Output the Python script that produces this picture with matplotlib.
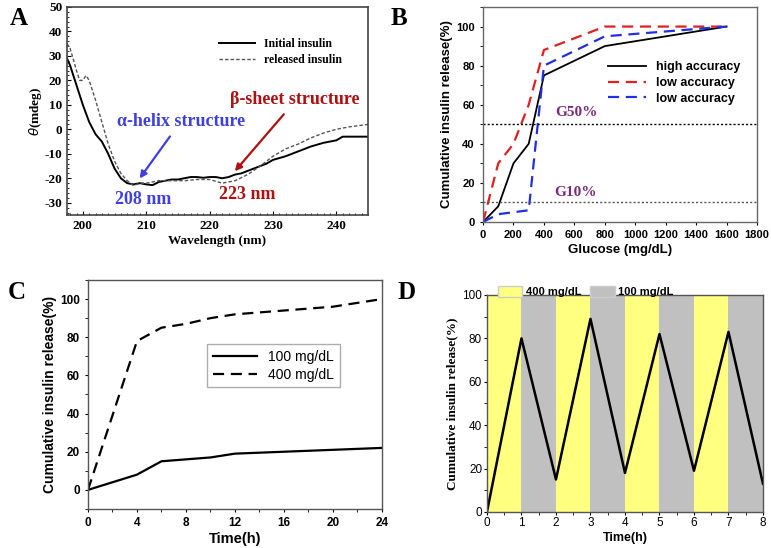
import numpy as np
import matplotlib
matplotlib.use("Agg")
import matplotlib.pyplot as plt
from matplotlib.patches import Patch
from matplotlib.ticker import MultipleLocator

plt.rcParams["axes.unicode_minus"] = False

# -----------------------------
# Data
# -----------------------------

# A: CD spectra
wl_initial = [197, 198, 199, 200, 201, 202, 203, 204, 205, 206, 207, 208, 209, 210, 211,
              212, 213, 214, 215, 216, 217, 218, 219, 220, 221, 222, 223, 224, 225, 226,
              227, 228, 229, 230, 232, 234, 236, 238, 240, 241, 243, 245]
cd_initial = [32, 26, 18, 10, 3, -2, -5, -10, -16, -20, -22, -22.5, -22, -22.5, -22.8,
              -21.5, -21, -20.5, -20.5, -20, -19.5, -19.5, -19.8, -19.5, -19.5, -20, -19.5, -18.5, -18, -17,
              -16, -15, -14, -12.5, -11, -9, -7, -5.5, -4.5, -3, -3, -3]
wl_released = [197, 198, 199, 199.5, 200, 200.5, 201, 202, 203, 204, 205, 206, 207, 208, 209,
               210, 212, 214, 216, 218, 220, 222, 224, 226, 228, 230, 232, 234, 236, 238,
               240, 242, 245]
cd_released = [37, 33, 24, 20, 20, 22, 20, 12, 3, -6, -13, -18, -21, -23, -22,
               -22, -21, -21, -21, -20.5, -20.5, -22, -21, -18.5, -15, -11, -8, -6, -3.5, -1.5,
               0, 1, 2]

# B: release vs glucose
glucose = [0, 100, 200, 300, 400, 800, 1600]
high_acc = [0, 8, 30, 40, 75, 90, 100]
low_acc_red = [0, 30, 40, 60, 88, 100, 100]
low_acc_blue = [0, 4, 5, 6, 80, 95, 100]

# C: cumulative release vs time
time_c = [0, 4, 6, 8, 10, 12, 16, 20, 24]
rel_100 = [0, 8, 15, 16, 17, 19, 20, 21, 22]
rel_400 = [0, 78, 85, 87, 90, 92, 94, 96, 100]

# D: pulsatile release
time_d = [0, 1, 2, 3, 4, 5, 6, 7, 8]
rel_d = [0, 80, 15, 89, 18, 82, 19, 83, 13]
band_labels = ["400 mg/dL", "100 mg/dL"]
band_colors = ["#ffff80", "#c0c0c0"]

# -----------------------------
# Figure
# -----------------------------

fig = plt.figure(figsize=(7.71, 5.48), dpi=100)
serif = "Liberation Serif"
sans = "Liberation Sans"

# ---- Panel A ----
axA = fig.add_axes([0.0869, 0.6077, 0.3904, 0.3796])
axA.plot(wl_initial, cd_initial, color="black", lw=1.4, label="Initial insulin")
axA.plot(wl_released, cd_released, color="#555555", lw=1.0, ls=(0, (2.5, 1.5)), label="released insulin")
axA.set_xlim(197.5, 245)
axA.set_ylim(-35, 50)
axA.xaxis.set_major_locator(MultipleLocator(10))
axA.xaxis.set_minor_locator(MultipleLocator(1))
axA.yaxis.set_major_locator(MultipleLocator(10))
axA.yaxis.set_minor_locator(MultipleLocator(2))
axA.tick_params(which="both", direction="in", labelsize=9.5)
axA.tick_params(which="major", length=3)
axA.tick_params(which="minor", length=1.5)
for lab in axA.get_xticklabels() + axA.get_yticklabels():
    lab.set_fontfamily(serif)
    lab.set_fontweight("bold")
axA.set_xlabel("Wavelength (nm)", fontfamily=serif, fontweight="bold", fontsize=9.5, labelpad=2)
axA.set_ylabel(r"$\theta$(mdeg)", fontfamily=serif, fontweight="bold", fontsize=9.5, labelpad=0)
axA.legend(loc="upper right", frameon=False, prop={"family": serif, "weight": "bold", "size": 8.5},
           handlelength=3, bbox_to_anchor=(0.95, 0.90), labelspacing=0.3)
axA.text(215.5, 3, "α-helix structure", color="#4040e0", fontfamily=serif, fontweight="bold",
         fontsize=13, ha="center", va="center")
axA.text(233.5, 12, "β-sheet structure", color="#b01010", fontfamily=serif, fontweight="bold",
         fontsize=13, ha="center", va="center")
axA.text(209.5, -28.5, "208 nm", color="#4040e0", fontfamily=serif, fontweight="bold",
         fontsize=13, ha="center", va="center")
axA.text(226, -26.5, "223 nm", color="#b01010", fontfamily=serif, fontweight="bold",
         fontsize=13, ha="center", va="center")
axA.annotate("", xy=(208.7, -21), xytext=(214, -2),
             arrowprops=dict(arrowstyle="-|>", color="#4040e0", lw=1.6, mutation_scale=10))
axA.annotate("", xy=(223.7, -18), xytext=(232, 7),
             arrowprops=dict(arrowstyle="-|>", color="#b01010", lw=1.6, mutation_scale=10))
for s in axA.spines.values():
    s.set_linewidth(1.2)
    s.set_color("#444444")
fig.text(0.012, 0.955, "A", fontfamily=serif, fontweight="bold", fontsize=18)

# ---- Panel B ----
axB = fig.add_axes([0.6265, 0.5949, 0.3554, 0.3923])
axB.plot(glucose, high_acc, color="black", lw=1.3, label="high accuracy")
axB.plot(glucose, low_acc_red, color="#e02020", lw=1.6, ls=(0, (5, 3)), label="low accuracy")
axB.plot(glucose, low_acc_blue, color="#2030e0", lw=1.6, ls=(0, (5, 3)), label="low accuracy")
axB.axhline(50, color="black", lw=1.0, ls=(0, (1.5, 1.5)))
axB.axhline(10, color="#555555", lw=1.0, ls=(0, (1.5, 1.5)))
axB.text(615, 56, "G50%", color="#7a2a7a", fontfamily=serif, fontweight="bold", fontsize=11,
         ha="center", va="center")
axB.text(610, 15, "G10%", color="#7a2a7a", fontfamily=serif, fontweight="bold", fontsize=11,
         ha="center", va="center")
axB.set_xlim(0, 1800)
axB.set_ylim(0, 110)
axB.xaxis.set_major_locator(MultipleLocator(200))
axB.yaxis.set_major_locator(MultipleLocator(20))
axB.yaxis.set_minor_locator(MultipleLocator(10))
axB.tick_params(which="both", direction="out", labelsize=8, length=2.5)
for lab in axB.get_xticklabels() + axB.get_yticklabels():
    lab.set_fontfamily(sans)
    lab.set_fontweight("bold")
axB.set_xlabel("Glucose (mg/dL)", fontfamily=sans, fontweight="bold", fontsize=9.5, labelpad=3)
axB.set_ylabel("Cumulative insulin release(%)", fontfamily=sans, fontweight="bold", fontsize=9.5, labelpad=2)
axB.legend(loc="upper right", frameon=False, prop={"family": sans, "weight": "bold", "size": 9},
           handlelength=3, bbox_to_anchor=(0.98, 0.80), labelspacing=0.3)
for s in axB.spines.values():
    s.set_linewidth(1.0)
    s.set_color("#666666")
fig.text(0.507, 0.955, "B", fontfamily=serif, fontweight="bold", fontsize=18)

# ---- Panel C ----
axC = fig.add_axes([0.1141, 0.0712, 0.3813, 0.4179])
axC.plot(time_c, rel_100, color="black", lw=1.6, label="100 mg/dL")
axC.plot(time_c, rel_400, color="black", lw=1.6, ls=(0, (5, 3)), label="400 mg/dL")
axC.set_xlim(0, 24)
axC.set_ylim(-10, 110)
axC.xaxis.set_major_locator(MultipleLocator(4))
axC.xaxis.set_minor_locator(MultipleLocator(2))
axC.yaxis.set_major_locator(MultipleLocator(20))
axC.yaxis.set_minor_locator(MultipleLocator(10))
axC.tick_params(which="both", direction="out", labelsize=8.5, length=2.5)
for lab in axC.get_xticklabels() + axC.get_yticklabels():
    lab.set_fontfamily(sans)
    lab.set_fontweight("bold")
axC.set_xlabel("Time(h)", fontfamily=sans, fontweight="bold", fontsize=10.5, labelpad=2)
axC.set_ylabel("Cumulative insulin release(%)", fontfamily=sans, fontweight="bold", fontsize=10, labelpad=2)
legC = axC.legend(loc="upper right", frameon=True, fancybox=False, prop={"family": sans, "size": 10},
                  handlelength=3.2, bbox_to_anchor=(0.88, 0.75), labelspacing=0.3, borderpad=0.4)
legC.get_frame().set_edgecolor("#999999")
legC.get_frame().set_linewidth(1.0)
for s in axC.spines.values():
    s.set_linewidth(1.0)
    s.set_color("#555555")
fig.text(0.01, 0.455, "C", fontfamily=serif, fontweight="bold", fontsize=18)

# ---- Panel D ----
axD = fig.add_axes([0.6316, 0.0657, 0.358, 0.396])
for i in range(len(time_d) - 1):
    axD.axvspan(time_d[i], time_d[i + 1], color=band_colors[i % 2], lw=0)
axD.plot(time_d, rel_d, color="black", lw=1.8)
axD.set_xlim(0, 8)
axD.set_ylim(0, 100)
axD.xaxis.set_major_locator(MultipleLocator(1))
axD.xaxis.set_minor_locator(MultipleLocator(0.5))
axD.yaxis.set_major_locator(MultipleLocator(20))
axD.yaxis.set_minor_locator(MultipleLocator(10))
axD.tick_params(which="both", direction="out", labelsize=8.5, length=2.5, pad=1)
for lab in axD.get_xticklabels() + axD.get_yticklabels():
    lab.set_fontfamily(sans)
axD.set_xlabel("Time(h)", fontfamily=sans, fontweight="bold", fontsize=9, labelpad=2)
axD.set_ylabel("Cumulative insulin release(%)", fontfamily=serif, fontweight="bold", fontsize=9.5, labelpad=3)
handles = [Patch(facecolor=band_colors[0], edgecolor="#cccccc"),
           Patch(facecolor=band_colors[1], edgecolor="#cccccc")]
axD.legend(handles, band_labels, loc="lower left", ncol=2, frameon=False,
           prop={"family": sans, "weight": "bold", "size": 8},
           bbox_to_anchor=(0.04, 0.99), borderaxespad=0, handlelength=2.2, handleheight=1.1,
           columnspacing=0.8, handletextpad=0.3, borderpad=0)
for s in axD.spines.values():
    s.set_linewidth(1.0)
    s.set_color("#555555")
fig.text(0.515, 0.455, "D", fontfamily=serif, fontweight="bold", fontsize=18)

plt.savefig("out.png", dpi=100)
